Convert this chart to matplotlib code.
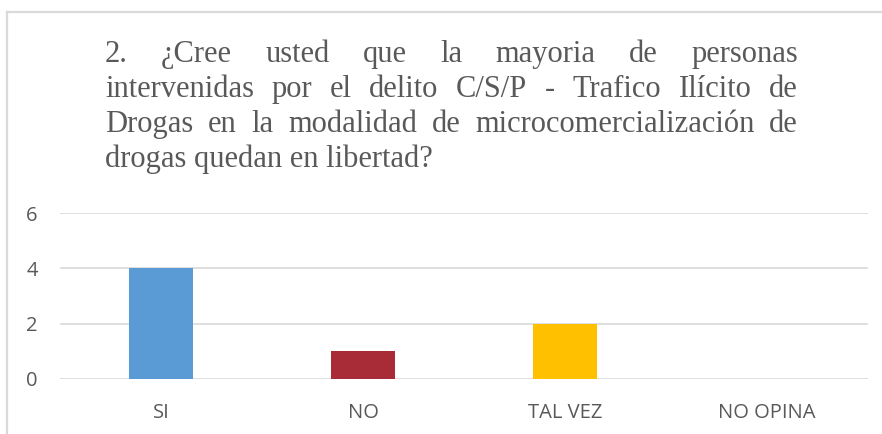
import matplotlib
matplotlib.use("Agg")
import matplotlib.pyplot as plt
from matplotlib.lines import Line2D

categories = ["SI", "NO", "TAL VEZ", "NO OPINA"]
values = [4, 1, 2, 0]
colors = ["#5B9BD5", "#A82C38", "#FFC000", "#70AD47"]
yticks = [0, 2, 4, 6]
title_lines = [
    "2. ¿Cree usted que la mayoria de personas",
    "intervenidas por el delito C/S/P - Trafico Ilícito de",
    "Drogas en la modalidad de microcomercialización de",
    "drogas quedan en libertad?",
]

W, H = 882, 434
fig = plt.figure(figsize=(W / 100, H / 100), dpi=100)
fig.patch.set_facecolor("white")

# frame lines (chart border, partly cropped)
fig.add_artist(Line2D([7 / W, 7 / W], [0, 1 - 12 / H], transform=fig.transFigure,
                      color="#D9D9D9", lw=1.6))
fig.add_artist(Line2D([7 / W, 1], [1 - 12 / H, 1 - 12 / H], transform=fig.transFigure,
                      color="#D9D9D9", lw=1.6))

ax = fig.add_axes([60 / W, 55 / H, (868 - 60) / W, (379 - 213) / H])
x = list(range(len(categories)))
ax.bar(x, values, width=0.317, color=colors, zorder=3)
ax.set_xlim(-0.5, len(categories) - 0.5)
ax.set_ylim(0, 6)
ax.set_yticks(yticks)
ax.set_xticks(x)
ax.set_xticklabels(categories)
for s in ax.spines.values():
    s.set_visible(False)
ax.grid(axis="y", color="#D9D9D9", lw=1.2, zorder=0)
ax.set_axisbelow(True)
ax.tick_params(axis="both", length=0, colors="#595959", labelsize=14.5)
ax.tick_params(axis="x", pad=17)
ax.tick_params(axis="y", pad=16)
for lab in ax.get_xticklabels() + ax.get_yticklabels():
    lab.set_family("Open Sans")
    lab.set_color("#595959")

# justified title
fs = 22
left_px, right_px = 105, 798
baselines = [62, 97, 132, 167]
fig.canvas.draw()
renderer = fig.canvas.get_renderer()

def width_of(s):
    t = fig.text(0, 0, s, family="Liberation Serif", fontsize=fs)
    w = t.get_window_extent(renderer).width
    t.remove()
    return w

for i, line in enumerate(title_lines):
    yb = 1 - baselines[i] / H
    if i == len(title_lines) - 1:
        fig.text(left_px / W, yb, line, family="Liberation Serif", fontsize=fs,
                 color="#595959", va="baseline", ha="left")
        continue
    words = line.split(" ")
    widths = [width_of(wd) for wd in words]
    gap = (right_px - left_px - sum(widths)) / (len(words) - 1)
    xp = left_px
    for wd, wdt in zip(words, widths):
        fig.text(xp / W, yb, wd, family="Liberation Serif", fontsize=fs,
                 color="#595959", va="baseline", ha="left")
        xp += wdt + gap

fig.savefig("out.png", dpi=100, facecolor="white")
